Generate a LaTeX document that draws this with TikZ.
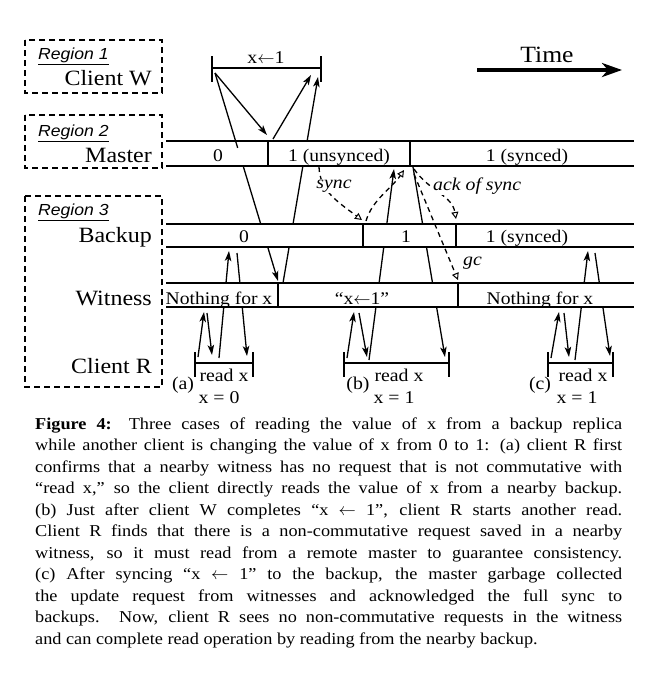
\documentclass[tikz,border=0pt]{standalone}
\usepackage{fontspec}
\setmainfont[FakeStretch=1.1]{Liberation Serif}
\setsansfont[FakeStretch=1.1]{Liberation Sans}
\usetikzlibrary{arrows.meta,calc}
\begin{document}
\begin{tikzpicture}[x=1pt,y=-1pt,
  region/.style={draw, line width=1.3pt, dash pattern=on 6pt off 4pt},
  regtxt/.style={anchor=base west, inner sep=0pt, font=\sffamily\itshape\fontsize{16}{18}\selectfont},
  rowlbl/.style={anchor=base east, inner sep=0pt, font=\fontsize{21.8}{26}\selectfont},
  bar/.style={line width=1.8pt},
  cell/.style={anchor=base, inner sep=0pt, font=\fontsize{17.8}{22}\selectfont},
  conn/.style={line width=1.3pt},
  arr/.style={conn, -{Stealth[length=10pt,width=6.5pt,inset=2.5pt]}},
  dconn/.style={line width=1.3pt, dash pattern=on 5pt off 4pt},
  darr/.style={dconn, -{Triangle[open,length=7pt,width=7pt,line width=1pt]}},
  itlbl/.style={font=\itshape\fontsize{18}{20}\selectfont, inner sep=1pt, fill=white},
  small/.style={anchor=base, inner sep=0pt, font=\fontsize{18}{20}\selectfont},
  capline/.style={anchor=base west, inner sep=0pt, font=\fontsize{16.6}{21.5}\selectfont},
]
\path[use as bounding box] (0,0) rectangle (660,686);

% ---------- region boxes and row labels
\draw[region] (25,40) rectangle (162,93);
\draw[region] (25,115) rectangle (162,168);
\draw[region] (25,196) rectangle (162,387);
\node[regtxt] (r1) at (38,59) {\underline{Region 1}};
\node[regtxt] (r2) at (38,136) {\underline{Region 2}};
\node[regtxt] (r3) at (38,215) {\underline{Region 3}};
\node[rowlbl] (lw) at (152,85) {Client W};
\node[rowlbl] (lm) at (152,162) {Master};
\node[rowlbl] (lb) at (152,242) {Backup};
\node[rowlbl] (lwi) at (152,305) {Witness};
\node[rowlbl] (lr) at (152,373) {Client R};

% ---------- time arrow
\coordinate (t0) at (477,70);
\coordinate (t1) at (622,70);
\draw[line width=3.5pt, -{Stealth[length=20pt,width=14pt,inset=6pt]}] (t0) -- (t1);
\node[anchor=base, inner sep=0pt, font=\fontsize{23.3}{26}\selectfont] (time) at (547,62) {Time};

% ---------- connector end points
\coordinate (wL) at (215,73);
\coordinate (W1e) at (278,281);
\coordinate (W2e) at (267,135);
\coordinate (W3s) at (273,139);
\coordinate (W3e) at (311,75);
\coordinate (W4s) at (283,283);
\coordinate (W4e) at (318,77);
\coordinate (a1s) at (198,357); \coordinate (a1e) at (204,312);
\coordinate (a2s) at (207,313); \coordinate (a2e) at (212,355);
\coordinate (a3s) at (219,358); \coordinate (a3e) at (229,251);
\coordinate (a4s) at (237,253); \coordinate (a4e) at (247,356);
\coordinate (b1s) at (347,358); \coordinate (b1e) at (354,312);
\coordinate (b2s) at (359,313); \coordinate (b2e) at (367,357);
\coordinate (b3s) at (369,360); \coordinate (b3e) at (394,169);
\coordinate (b4s) at (413,167); \coordinate (b4e) at (445,357);
\coordinate (c1s) at (551,358); \coordinate (c1e) at (559,312);
\coordinate (c2s) at (564,313); \coordinate (c2e) at (569,357);
\coordinate (c3s) at (575,360); \coordinate (c3e) at (588,251);
\coordinate (c4s) at (595,253); \coordinate (c4e) at (610,356);
\coordinate (sys) at (319,167); \coordinate (sye) at (362,220);
\coordinate (bas) at (366,221); \coordinate (bae) at (404,170);
\coordinate (aks) at (414,169); \coordinate (ake) at (456,219);
\coordinate (gcs) at (414,174); \coordinate (gce) at (458,280);

% ---------- solid connectors (drawn under the bars)
\draw[arr] (wL) -- (W1e);
\draw[arr] (wL) -- (W2e);
\draw[arr] (W3s) -- (W3e);
\draw[arr] (W4s) -- (W4e);
\draw[arr] (a1s) -- (a1e);
\draw[arr] (a2s) -- (a2e);
\draw[arr] (a3s) -- (a3e);
\draw[arr] (a4s) -- (a4e);
\draw[arr] (b1s) -- (b1e);
\draw[arr] (b2s) -- (b2e);
\draw[arr] (b3s) -- (b3e);
\draw[arr] (b4s) -- (b4e);
\draw[arr] (c1s) -- (c1e);
\draw[arr] (c2s) -- (c2e);
\draw[arr] (c3s) -- (c3e);
\draw[arr] (c4s) -- (c4e);

% ---------- bar interiors hide the crossing lines
\fill[white] (166,142) rectangle (634,165.5);
\fill[white] (166,225) rectangle (634,246.5);
\fill[white] (166,284) rectangle (634,306.5);
\draw[conn] ($(wL)!0.327!(W1e)$) -- ($(wL)!0.36!(W1e)$);

% ---------- dashed connectors
\draw[darr] (sys) .. controls (320,190) and (335,200) .. (sye);
\draw[darr] (bas) .. controls (372,200) and (392,188) .. (bae);
\draw[darr] (aks) .. controls (430,192) and (452,195) .. (ake);
\draw[darr] (gcs) -- (gce);
\node[itlbl] (sync) at (334,186) {sync};
\node[itlbl, anchor=base west] (ack) at (432,190) {ack of sync};
\node[itlbl, anchor=base west, fill=none] (gc) at (462,265) {gc};

% ---------- Client W interval
\draw[bar] (212,68) -- (321,68);
\draw[bar] (212,56) -- (212,82);
\draw[bar] (321,56) -- (321,82);
\node[small] (xw) at (266,63) {x$\leftarrow$1};

% ---------- Master bar
\draw[bar] (166,141) -- (634,141);
\draw[bar] (166,166) -- (634,166);
\draw[bar] (268,141) -- (268,166);
\draw[bar] (410,141) -- (410,166);
\node[cell] (m0) at (218,161) {0};
\node[cell] (m1) at (339,161) {1 (unsynced)};
\node[cell] (m2) at (527,161) {1 (synced)};

% ---------- Backup bar
\draw[bar] (166,224) -- (634,224);
\draw[bar] (166,247) -- (634,247);
\draw[bar] (363,224) -- (363,247);
\draw[bar] (456,224) -- (456,247);
\node[cell] (bk0) at (244,242) {0};
\node[cell] (bk1) at (406,242) {1};
\node[cell] (bk2) at (527,242) {1 (synced)};

% ---------- Witness bar
\draw[bar] (166,283) -- (634,283);
\draw[bar] (166,307) -- (634,307);
\draw[bar] (278,283) -- (278,307);
\draw[bar] (458,283) -- (458,307);
\node[cell] (wt0) at (219,304) {Nothing for x};
\node[cell] (wt1) at (362,304) {“x$\leftarrow$1”};
\node[cell] (wt2) at (540,304) {Nothing for x};

% ---------- Client R intervals
\draw[bar] (195,363) -- (253,363);
\draw[bar] (195,352) -- (195,377);
\draw[bar] (253,352) -- (253,377);
\node[small] (ra) at (224,381) {read x};
\node[small] (pa) at (183,389) {(a)};
\node[small] (va) at (219,403) {x = 0};

\draw[bar] (344,363) -- (449,363);
\draw[bar] (344,352) -- (344,377);
\draw[bar] (449,352) -- (449,377);
\node[small] (rb) at (399,381) {read x};
\node[small] (pb) at (358,389) {(b)};
\node[small] (vb) at (394,403) {x = 1};

\draw[bar] (548,363) -- (613,363);
\draw[bar] (548,352) -- (548,377);
\draw[bar] (613,352) -- (613,377);
\node[small] (rc) at (583,381) {read x};
\node[small] (pc) at (540,389) {(c)};
\node[small] (vc) at (577,403) {x = 1};

% ---------- caption
\node[capline] (cap1) at (35,429) {\makebox[587pt][s]{\textbf{Figure 4:} Three cases of reading the value of x from a backup replica}};
\node[capline] (cap2) at (35,450.5) {\makebox[587pt][s]{while another client is changing the value of x from 0 to 1: (a) client R first}};
\node[capline] (cap3) at (35,472) {\makebox[587pt][s]{confirms that a nearby witness has no request that is not commutative with}};
\node[capline] (cap4) at (35,493.5) {\makebox[587pt][s]{“read x,” so the client directly reads the value of x from a nearby backup.}};
\node[capline] (cap5) at (35,515) {\makebox[587pt][s]{(b) Just after client W completes “x $\leftarrow$ 1”, client R starts another read.}};
\node[capline] (cap6) at (35,536.5) {\makebox[587pt][s]{Client R finds that there is a non-commutative request saved in a nearby}};
\node[capline] (cap7) at (35,558) {\makebox[587pt][s]{witness, so it must read from a remote master to guarantee consistency.}};
\node[capline] (cap8) at (35,579.5) {\makebox[587pt][s]{(c) After syncing “x $\leftarrow$ 1” to the backup, the master garbage collected}};
\node[capline] (cap9) at (35,601) {\makebox[587pt][s]{the update request from witnesses and acknowledged the full sync to}};
\node[capline] (cap10) at (35,622.5) {\makebox[587pt][s]{backups. Now, client R sees no non-commutative requests in the witness}};
\node[capline] (cap11) at (35,644) {and can complete read operation by reading from the nearby backup.};
\end{tikzpicture}
\end{document}
